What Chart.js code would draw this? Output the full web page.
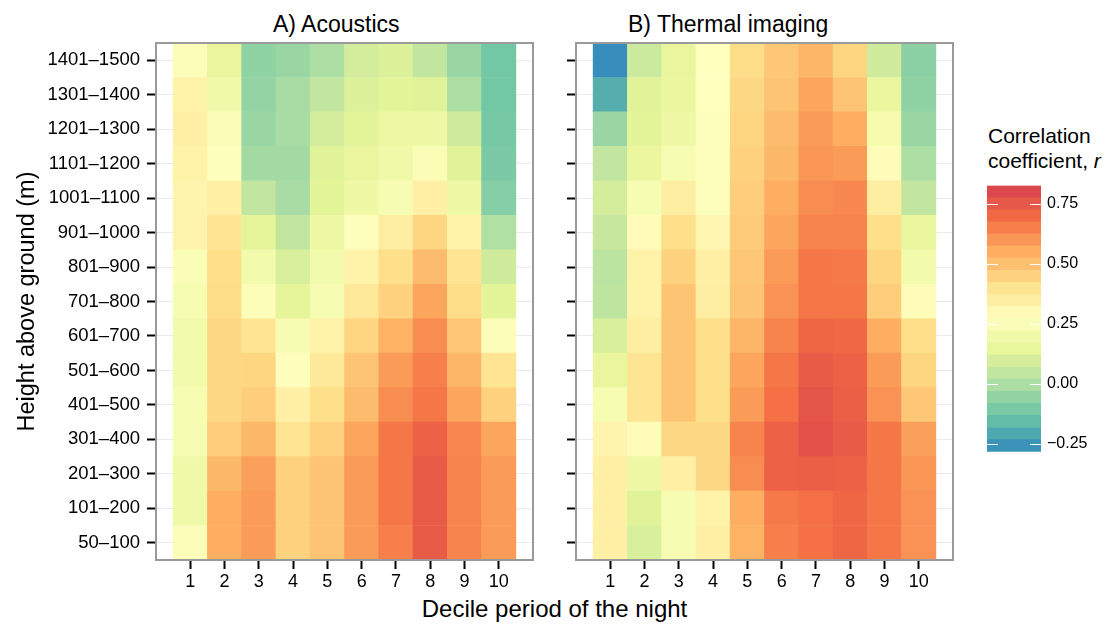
<!DOCTYPE html>
<html lang="en">
<head>
    <meta charset="UTF-8">
    <title>Correlation by height and decile of the night</title>
    <script src="https://cdn.jsdelivr.net/npm/chart.js"></script>
    <style>
        body { margin: 0; width: 1111px; height: 625px; background: #fff; position: relative; overflow: hidden;
               font-family: "Liberation Sans", Arial, sans-serif; color: #000; }
        canvas { position: absolute; }
        .txt { position: absolute; white-space: nowrap; }
        #titleA, #titleB { font-size: 23px; line-height: 26px; top: 11px; }
        #titleA { left: 273px; }
        #titleB { left: 628px; }
        #xTitle { font-size: 24px; line-height: 28px; top: 595px; left: 156px; width: 797px; text-align: center; }
        #legendTitle { font-size: 21px; line-height: 25px; top: 123px; left: 988px; }
    </style>
</head>
<body>
    <div class="txt" id="titleA">A) Acoustics</div>
    <div class="txt" id="titleB">B) Thermal imaging</div>
    <div class="txt" id="xTitle">Decile period of the night</div>
    <div class="txt" id="legendTitle">Correlation<br>coefficient, <i>r</i></div>

    <canvas id="chartA" width="540" height="625" style="left:0;top:0"></canvas>
    <canvas id="chartB" width="420" height="625" style="left:540px;top:0"></canvas>
    <canvas id="legendBar" width="151" height="300" style="left:960px;top:170px"></canvas>

    <script>
        // x: decile period, y: height band (bottom to top)
        const deciles = [1, 2, 3, 4, 5, 6, 7, 8, 9, 10];
        const heightBands = ['50–100', '101–200', '201–300', '301–400', '401–500', '501–600', '601–700',
            '701–800', '801–900', '901–1000', '1001–1100', '1101–1200', '1201–1300', '1301–1400', '1401–1500'];

        // correlation r, one row per height band (bottom to top), one value per decile
        const acousticsR = [
            [0.25, 0.55, 0.59, 0.45, 0.49, 0.59, 0.65, 0.74, 0.64, 0.59],
            [0.19, 0.55, 0.59, 0.45, 0.49, 0.59, 0.67, 0.74, 0.64, 0.59],
            [0.19, 0.52, 0.58, 0.45, 0.49, 0.59, 0.67, 0.74, 0.64, 0.59],
            [0.23, 0.46, 0.52, 0.39, 0.45, 0.57, 0.67, 0.72, 0.63, 0.57],
            [0.23, 0.43, 0.46, 0.34, 0.41, 0.51, 0.62, 0.67, 0.57, 0.45],
            [0.20, 0.43, 0.44, 0.28, 0.37, 0.49, 0.59, 0.65, 0.53, 0.39],
            [0.20, 0.43, 0.39, 0.23, 0.33, 0.44, 0.54, 0.62, 0.48, 0.25],
            [0.23, 0.42, 0.25, 0.14, 0.23, 0.37, 0.45, 0.57, 0.42, 0.13],
            [0.24, 0.41, 0.20, 0.10, 0.20, 0.33, 0.41, 0.51, 0.39, 0.08],
            [0.32, 0.39, 0.14, 0.05, 0.18, 0.26, 0.35, 0.44, 0.33, 0.01],
            [0.32, 0.34, 0.05, -0.01, 0.13, 0.18, 0.23, 0.34, 0.18, -0.08],
            [0.33, 0.26, -0.02, -0.02, 0.12, 0.15, 0.19, 0.24, 0.12, -0.10],
            [0.34, 0.24, -0.04, -0.01, 0.09, 0.13, 0.17, 0.18, 0.08, -0.11],
            [0.33, 0.19, -0.05, -0.01, 0.05, 0.11, 0.13, 0.12, 0.00, -0.12],
            [0.25, 0.15, -0.06, -0.04, 0.00, 0.09, 0.11, 0.05, -0.04, -0.12]
        ];
        const thermalR = [
            [0.34, 0.10, 0.23, 0.34, 0.54, 0.65, 0.68, 0.71, 0.67, 0.61],
            [0.34, 0.12, 0.23, 0.33, 0.55, 0.66, 0.68, 0.71, 0.67, 0.61],
            [0.34, 0.18, 0.34, 0.43, 0.62, 0.72, 0.73, 0.72, 0.67, 0.60],
            [0.32, 0.29, 0.43, 0.43, 0.64, 0.72, 0.77, 0.74, 0.67, 0.58],
            [0.23, 0.39, 0.49, 0.41, 0.59, 0.68, 0.76, 0.73, 0.61, 0.48],
            [0.15, 0.39, 0.49, 0.41, 0.57, 0.67, 0.74, 0.72, 0.59, 0.44],
            [0.10, 0.35, 0.49, 0.41, 0.53, 0.64, 0.71, 0.70, 0.55, 0.41],
            [0.04, 0.33, 0.49, 0.35, 0.49, 0.61, 0.67, 0.67, 0.46, 0.29],
            [0.035, 0.33, 0.45, 0.34, 0.48, 0.59, 0.67, 0.66, 0.44, 0.20],
            [0.06, 0.29, 0.41, 0.31, 0.47, 0.57, 0.64, 0.64, 0.41, 0.15],
            [0.09, 0.23, 0.35, 0.26, 0.46, 0.55, 0.62, 0.63, 0.35, 0.05],
            [0.05, 0.16, 0.23, 0.26, 0.45, 0.52, 0.60, 0.59, 0.29, 0.00],
            [-0.04, 0.13, 0.18, 0.26, 0.44, 0.51, 0.59, 0.55, 0.22, -0.04],
            [-0.19, 0.12, 0.16, 0.27, 0.43, 0.49, 0.57, 0.49, 0.16, -0.06],
            [-0.27, 0.07, 0.15, 0.27, 0.42, 0.48, 0.53, 0.44, 0.08, -0.07]
        ];

        // colour scale
        const colourLimits = [-0.282, 0.827];
        const legendTicks = [-0.25, 0, 0.25, 0.5, 0.75];
        const spectral = ['#3288BD', '#66C2A5', '#ABDDA4', '#E6F598', '#FFFFBF', '#FEE08B', '#FDAE61', '#F46D43', '#D53E4F'];
        const legendBins = 22;

        const hexToRgb = h => [1, 3, 5].map(i => parseInt(h.slice(i, i + 2), 16));
        function colourFor(v) {
            let t = (v - colourLimits[0]) / (colourLimits[1] - colourLimits[0]);
            t = Math.min(1, Math.max(0, t)) * (spectral.length - 1);
            const i = Math.min(Math.floor(t), spectral.length - 2);
            const f = t - i;
            const a = hexToRgb(spectral[i]), b = hexToRgb(spectral[i + 1]);
            const c = a.map((x, k) => Math.round(x + (b[k] - x) * f));
            return `rgb(${c[0]},${c[1]},${c[2]})`;
        }

        Chart.defaults.font.family = '"Liberation Sans", Arial, sans-serif';
        Chart.defaults.color = '#000';

        // grey border round each panel
        const panelFrame = {
            id: 'panelFrame',
            afterDatasetsDraw(chart) {
                const { ctx, chartArea: a } = chart;
                ctx.save();
                ctx.strokeStyle = '#9a9a9a';
                ctx.lineWidth = 2;
                ctx.strokeRect(a.left, a.top, a.right - a.left, a.bottom - a.top);
                ctx.restore();
            }
        };

        function tileDatasets(rows) {
            return rows.map((row, i) => ({
                data: row.map((r, j) => ({ x: deciles[j], y: [i + 0.5, i + 1.5] })),
                backgroundColor: row.map(colourFor),
                borderWidth: 0,
                barPercentage: 1,
                categoryPercentage: 1,
                grouped: false
            }));
        }

        function heatmap(id, rows, axisWidth, showYLabels) {
            return new Chart(document.getElementById(id), {
                type: 'bar',
                data: { datasets: tileDatasets(rows) },
                options: {
                    responsive: false,
                    animation: false,
                    layout: { padding: { top: 43, right: 7, left: 0, bottom: 0 } },
                    plugins: { legend: { display: false }, tooltip: { enabled: false } },
                    scales: {
                        x: {
                            type: 'linear', min: 0, max: 11, offset: false,
                            afterBuildTicks: s => { s.ticks = deciles.map(v => ({ value: v })); },
                            afterFit: s => { s.height = 65; },
                            grid: { offset: false, drawOnChartArea: false, tickLength: 9, tickColor: '#000', tickWidth: 2 },
                            border: { display: false },
                            ticks: { font: { size: 18 }, padding: 2, maxRotation: 0, autoSkip: false }
                        },
                        y: {
                            type: 'linear', min: 0.5, max: 15.5,
                            afterBuildTicks: s => { s.ticks = heightBands.map((b, i) => ({ value: i + 1 })); },
                            afterFit: s => { s.width = axisWidth; },
                            grid: { color: '#ebebeb', lineWidth: 1, tickLength: 9, tickColor: '#000', tickWidth: 2 },
                            border: { display: false },
                            ticks: {
                                display: showYLabels, font: { size: 18.5 }, padding: 7, autoSkip: false,
                                callback: v => heightBands[Math.round(v) - 1]
                            },
                            title: {
                                display: showYLabels, text: 'Height above ground (m)',
                                font: { size: 23.5 }, padding: { top: 13, bottom: 0 }
                            }
                        }
                    }
                },
                plugins: [panelFrame]
            });
        }

        heatmap('chartA', acousticsR, 156, true);
        heatmap('chartB', thermalR, 36, false);

        // colour bar legend
        const binSize = (colourLimits[1] - colourLimits[0]) / legendBins;
        const binDatasets = [];
        for (let k = 0; k < legendBins; k++) {
            const lo = colourLimits[0] + k * binSize;
            binDatasets.push({
                data: [[lo, lo + binSize]],
                backgroundColor: colourFor(lo + binSize / 2),
                borderWidth: 0,
                barPercentage: 1,
                categoryPercentage: 1,
                grouped: false
            });
        }

        const barTicks = {
            id: 'barTicks',
            afterDatasetsDraw(chart) {
                const { ctx, chartArea: a } = chart;
                const y = chart.scales.y;
                ctx.save();
                ctx.strokeStyle = '#fff';
                ctx.lineWidth = 1.2;
                ctx.beginPath();
                legendTicks.forEach(v => {
                    const p = Math.round(y.getPixelForValue(v)) + 0.5;
                    ctx.moveTo(a.left, p); ctx.lineTo(a.left + 11, p);
                    ctx.moveTo(a.right - 11, p); ctx.lineTo(a.right, p);
                });
                ctx.stroke();
                ctx.restore();
            }
        };

        new Chart(document.getElementById('legendBar'), {
            type: 'bar',
            data: { labels: [''], datasets: binDatasets },
            options: {
                responsive: false,
                animation: false,
                layout: { padding: { top: 10.7, right: 0, left: 27, bottom: 18.3 } },
                plugins: { legend: { display: false }, tooltip: { enabled: false } },
                scales: {
                    x: { display: false },
                    y: {
                        position: 'right',
                        min: colourLimits[0], max: colourLimits[1],
                        afterBuildTicks: s => { s.ticks = legendTicks.map(v => ({ value: v })); },
                        afterFit: s => { s.width = 70; },
                        grid: { display: false, drawTicks: false },
                        border: { display: false },
                        ticks: {
                            font: { size: 16 }, padding: 6,
                            callback: v => (v < 0 ? '\u2212' : '') + Math.abs(v).toFixed(2)
                        }
                    }
                }
            },
            plugins: [barTicks]
        });
    </script>
</body>
</html>
